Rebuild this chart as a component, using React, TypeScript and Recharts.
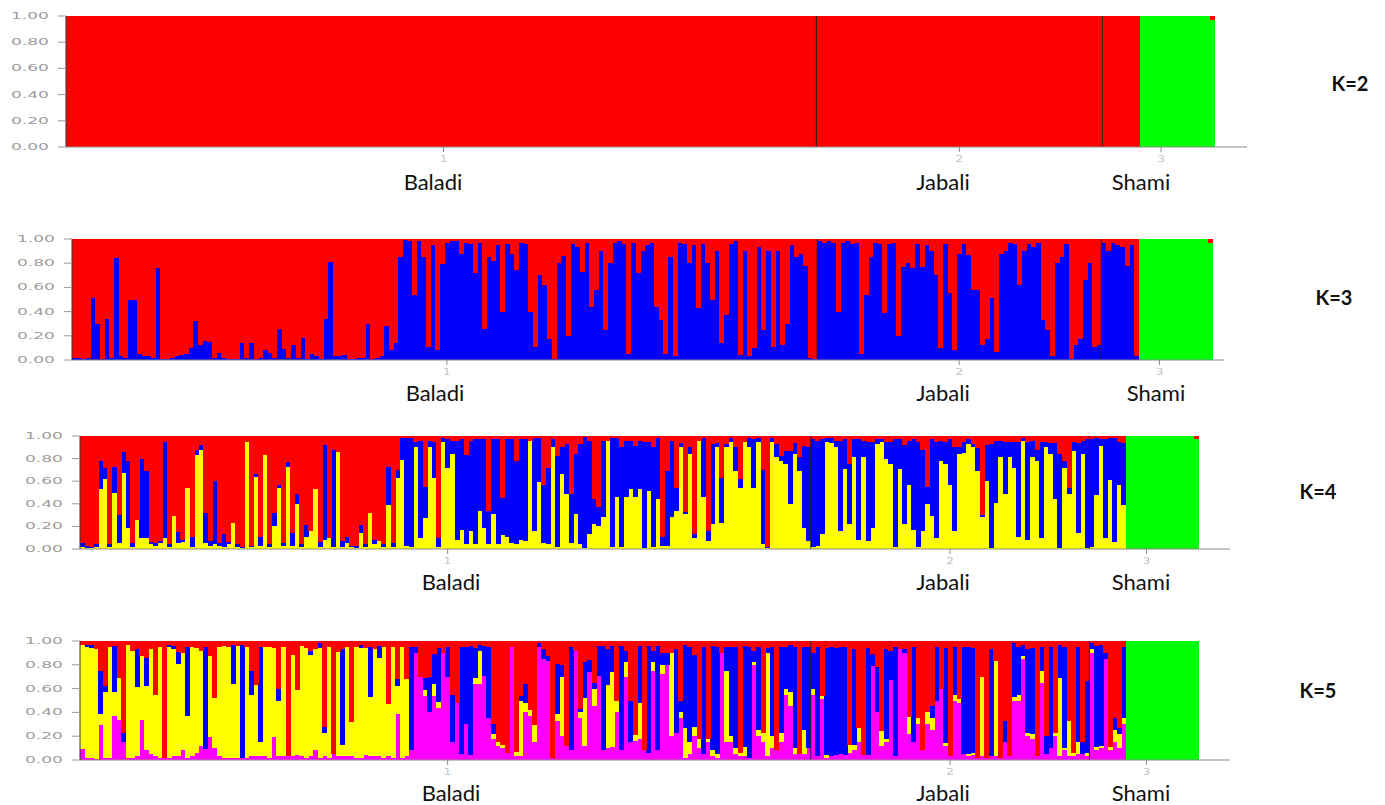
import React from "react";
import { BarChart, Bar, XAxis, YAxis, ReferenceLine } from "recharts";

const POPULATIONS = ["Baladi", "Jabali", "Shami"];
const POP_SIZES = [160, 61, 24];
const Y_TICKS = [0, 20, 40, 60, 80, 100];

// membership (%) of the green cluster for the last Shami individuals
const k2Green = [100, 100, 100, 100, 100, 100, 100, 100, 100, 100, 100, 100, 100, 100, 100, 97];
const k3Green = [100, 100, 100, 100, 100, 100, 100, 100, 100, 100, 100, 100, 100, 100, 100, 97];
const k4Green = [100, 100, 100, 100, 100, 100, 100, 100, 100, 100, 100, 100, 100, 100, 100, 97];
const k5Green = [100, 100, 100, 100, 100, 100, 100, 100, 100, 100, 100, 100, 100, 100, 100, 100];

// K=3, blue cluster (red is the rest)
const k3BlueBaladi = [
  2, 2, 1, 2, 51, 30, 1, 34, 2, 84, 3, 2, 50, 50, 5, 3, 3, 2, 76, 1,
  1, 2, 3, 4, 5, 10, 32, 12, 16, 15, 2, 6, 2, 1, 1, 1, 14, 2, 14, 1,
  2, 8, 6, 2, 26, 9, 2, 12, 2, 18, 1, 5, 3, 1, 34, 81, 3, 3, 4, 1,
  1, 2, 2, 30, 1, 2, 3, 28, 8, 14,
  85, 99, 98, 54, 98, 85, 11, 95, 8, 79, 97, 98, 98, 88, 97, 96, 72, 97, 26, 85,
  82, 95, 40, 96, 88, 74, 97, 96, 40, 11, 70, 62, 17, 1, 80, 86, 20, 96, 93, 73,
  97, 44, 58, 90, 25, 80, 97, 98, 96, 5, 97, 72, 90, 95, 97, 44, 33, 5, 85, 3,
  97, 96, 80, 95, 43, 96, 80, 50, 90, 14, 37, 96, 98, 4, 90, 3, 10, 93, 25, 90,
  11, 90, 12, 30, 95, 85, 88, 78, 2, 1,
];
const k3BlueJabali = [
  98, 97, 98, 97, 40, 97, 98, 96, 97, 5, 54, 85, 97, 96, 39, 96, 97, 20, 77, 80,
  76, 96, 77, 95, 90, 70, 10, 96, 55, 8, 88, 96, 87, 58, 58, 12, 17, 51, 7, 88,
  90, 97, 96, 62, 90, 96, 93, 97, 33, 25, 3, 80, 85, 96, 1, 12, 17, 66, 80, 11, 12,
];
const k3BlueShami = [97, 90, 97, 95, 93, 78, 95, 3];

// K=4, yellow and blue clusters
const k4YellowBaladi = [
  2, 1, 1, 2, 53, 62, 2, 50, 5, 67, 19, 2, 26, 10, 10, 4, 3, 5, 10, 2,
  29, 5, 6, 54, 2, 83, 88, 5, 3, 4, 3, 2, 4, 23, 2, 1, 95, 2, 64, 3,
  83, 2, 20, 54, 3, 73, 3, 40, 2, 11, 16, 53, 2, 8, 10, 2, 86, 2, 5, 2,
  1, 14, 2, 32, 4, 7, 2, 39, 2, 63, 79, 3, 2, 90, 10, 27, 90, 63, 2, 95,
  72, 84, 8, 17, 4, 16, 4, 34, 19, 4, 31, 4, 12, 11, 5, 4, 8, 7, 96, 16,
  59, 5, 4, 90, 2, 66, 49, 5, 31, 4, 1, 13, 22, 20, 28, 96, 2, 46, 2, 46,
  53, 46, 53, 1, 51, 2, 44, 3, 3, 28, 34, 90, 31, 84, 10, 96, 46, 7, 22, 90,
  23, 90, 95, 69, 54, 95, 90, 54, 95, 4, 1, 95, 81, 78, 75, 40, 84, 69, 19, 7,
];
const k4BlueBaladi = [
  3, 2, 1, 2, 25, 10, 2, 23, 25, 19, 59, 3, 0, 70, 59, 2, 2, 2, 85, 2,
  0, 10, 2, 0, 9, 5, 4, 27, 4, 56, 2, 11, 2, 0, 2, 1, 0, 1, 2, 8,
  0, 2, 12, 3, 2, 4, 11, 9, 2, 10, 0, 0, 4, 84, 0, 86, 0, 5, 6, 1,
  2, 7, 2, 0, 4, 0, 2, 34, 3, 7, 19, 95, 96, 5, 86, 28, 6, 32, 8, 3,
  25, 12, 88, 80, 79, 80, 93, 63, 78, 30, 66, 93, 33, 86, 92, 74, 89, 90, 0, 82,
  39, 52, 68, 7, 80, 24, 44, 44, 53, 89, 98, 83, 22, 17, 68, 0, 96, 52, 88, 50,
  43, 45, 43, 94, 44, 88, 54, 8, 66, 68, 20, 4, 2, 6, 3, 0, 52, 9, 71, 4,
  40, 3, 3, 21, 8, 0, 8, 43, 3, 66, 1, 3, 12, 4, 12, 47, 10, 12, 72, 83,
];
const k4YellowJabali = [
  2, 3, 13, 95, 94, 90, 16, 71, 22, 81, 8, 81, 7, 19, 93, 95, 80, 75, 2, 71,
  22, 57, 17, 2, 16, 40, 29, 10, 78, 75, 57, 16, 84, 85, 93, 90, 69, 28, 60, 1,
  41, 81, 49, 81, 72, 11, 96, 8, 81, 78, 10, 90, 84, 44, 1, 72, 49, 87, 14, 84, 1,
];
const k4BlueJabali = [
  95, 93, 84, 3, 4, 6, 80, 26, 53, 16, 89, 15, 88, 76, 4, 2, 15, 20, 95, 26,
  70, 39, 80, 93, 72, 15, 68, 85, 18, 20, 40, 74, 6, 10, 4, 3, 20, 2, 32, 92,
  55, 15, 46, 14, 23, 84, 2, 87, 15, 10, 85, 5, 10, 50, 83, 6, 5, 8, 80, 12, 96,
];
const k4YellowShami = [2, 48, 91, 10, 61, 6, 57, 39];
const k4BlueShami = [95, 50, 6, 87, 37, 92, 38, 55];

// K=5, magenta, yellow and blue clusters
const k5MagentaBaladi = [
  9, 2, 2, 1, 29, 2, 2, 37, 34, 15, 2, 2, 3, 34, 8, 5, 3, 2, 2, 2,
  3, 3, 8, 2, 3, 6, 12, 9, 19, 10, 3, 2, 2, 2, 2, 2, 2, 3, 3, 3,
  3, 2, 19, 3, 3, 3, 3, 4, 3, 2, 3, 8, 2, 3, 2, 5, 3, 3, 3, 3,
  2, 2, 4, 3, 3, 3, 2, 3, 2, 39, 2, 3,
  8, 90, 70, 54, 40, 54, 44, 90, 70, 15, 48,
  5, 30, 4, 64, 64, 71, 35, 18, 12, 10, 6, 95, 3, 3, 40, 37, 15, 95, 85, 83,
  2, 33, 20, 12, 8, 92, 35, 12, 74, 45, 71, 8, 10, 11, 40, 8, 70, 15, 16, 18,
  8, 6, 75, 8, 72, 80, 20, 23, 35, 2, 5, 20, 10, 5, 15, 3, 2, 90, 15, 15,
  5, 3, 3, 2, 80, 20, 15, 3, 10, 8, 15, 55, 45, 5, 5, 5, 10,
];
const k5YellowBaladi = [
  88, 93, 92, 92, 10, 55, 93, 20, 35, 0, 95, 90, 58, 53, 54, 88, 52, 93, 0, 93,
  90, 78, 82, 35, 92, 88, 80, 0, 68, 42, 92, 94, 93, 62, 94, 0, 93, 52, 60, 12,
  92, 93, 75, 47, 92, 0, 85, 55, 93, 92, 85, 85, 92, 20, 93, 0, 88, 10, 92, 29,
  93, 92, 90, 50, 90, 83, 93, 44, 93, 23, 93, 65,
  0, 0, 0, 5, 0, 10, 5, 0, 0, 0, 0,
  0, 0, 0, 5, 28, 0, 0, 4, 3, 3, 0, 0, 4, 47, 8, 5, 14, 0, 0, 0,
  0, 6, 50, 0, 0, 0, 5, 40, 0, 15, 0, 0, 53, 63, 10, 0, 12, 0, 5, 30,
  0, 0, 7, 0, 8, 0, 70, 0, 5, 25, 10, 8, 8, 0, 3, 5, 3, 0, 60, 5,
  5, 3, 8, 0, 2, 5, 8, 87, 10, 0, 8, 5, 12, 5, 0, 20, 0,
];
const k5BlueBaladi = [
  0, 2, 3, 0, 36, 5, 0, 39, 0, 8, 0, 0, 32, 0, 24, 0, 0, 0, 0, 2,
  3, 10, 0, 58, 0, 0, 0, 86, 0, 0, 0, 0, 0, 33, 0, 95, 0, 20, 0, 80,
  0, 0, 0, 10, 0, 0, 0, 0, 0, 0, 4, 0, 4, 5, 0, 0, 0, 80, 0, 0,
  0, 3, 0, 42, 0, 10, 0, 0, 0, 6, 0, 0,
  87, 5, 0, 10, 30, 25, 45, 0, 25, 40, 0,
  90, 65, 92, 25, 5, 25, 60, 8, 0, 0, 0, 0, 0, 4, 16, 0, 0, 3, 8, 4,
  0, 42, 10, 0, 87, 0, 3, 30, 10, 5, 25, 88, 30, 22, 0, 88, 10, 35, 0, 48,
  0, 90, 10, 88, 10, 10, 0, 70, 10, 70, 80, 60, 0, 90, 0, 88, 90, 0, 20, 75,
  85, 0, 85, 93, 10, 70, 0, 4, 75, 0, 72, 35, 40, 85, 0, 70, 85,
];
const k5MagentaJabali = [
  55, 3, 51, 2, 3, 4, 5, 4, 6, 8, 15, 4, 4, 79, 40, 12, 15, 67, 3, 93,
  90, 22, 15, 30, 8, 30, 25, 50, 60, 12, 3, 50, 48, 5, 3, 4, 2, 3, 2, 3,
  3, 2, 15, 3, 50, 50, 85, 20, 18, 3, 65, 5, 10, 20, 3, 8, 3, 3, 5, 5, 3,
];
const k5YellowJabali = [
  5, 0, 3, 2, 0, 0, 0, 0, 7, 5, 12, 0, 0, 0, 0, 12, 3, 0, 0, 0,
  0, 14, 0, 5, 0, 10, 10, 0, 0, 2, 0, 5, 3, 0, 2, 2, 0, 67, 0, 0,
  80, 0, 0, 0, 3, 5, 2, 3, 4, 0, 10, 0, 0, 3, 66, 2, 30, 3, 10, 0, 3,
];
const k5BlueJabali = [
  30, 92, 0, 90, 92, 90, 90, 91, 0, 80, 0, 0, 90, 10, 38, 0, 75, 25, 92, 0,
  3, 0, 80, 0, 0, 0, 10, 45, 0, 80, 0, 40, 0, 90, 90, 88, 0, 0, 0, 90,
  0, 0, 18, 0, 45, 40, 10, 70, 72, 0, 20, 15, 85, 0, 28, 85, 0, 0, 80, 10, 60,
];
const k5MagentaShami = [90, 8, 10, 85, 8, 15, 10, 30];
const k5YellowShami = [3, 3, 2, 0, 3, 10, 12, 5];
const k5BlueShami = [5, 85, 85, 5, 0, 10, 5, 60];

const COLORS: Record<string, string> = {
  green: "#00ff00",
  magenta: "#ff00ff",
  yellow: "#ffff00",
  blue: "#0000ff",
  red: "#ff0000",
};

const POP_STARTS = POP_SIZES.map((_, i) => POP_SIZES.slice(0, i).reduce((a, b) => a + b, 0));
const POP_TICKS = POP_STARTS.map((s, i) => s + Math.floor(POP_SIZES[i] / 2));

type Mix = { magenta?: number[]; yellow?: number[]; blue?: number[] };

function buildRows(mix: Mix, green: number[]) {
  const total = POP_SIZES.reduce((a, b) => a + b, 0);
  const admixed = total - green.length;
  const rows = [];
  for (let i = 0; i < total; i++) {
    if (i < admixed) {
      const magenta = mix.magenta ? mix.magenta[i] : 0;
      const yellow = mix.yellow ? mix.yellow[i] : 0;
      const blue = mix.blue ? mix.blue[i] : 0;
      rows.push({ id: i, green: 0, magenta, yellow, blue, red: Math.max(0, 100 - magenta - yellow - blue) });
    } else {
      const g = green[i - admixed];
      rows.push({ id: i, green: g, magenta: 0, yellow: 0, blue: 0, red: 100 - g });
    }
  }
  return rows;
}

const PANELS = [
  {
    k: 2,
    rows: buildRows({}, k2Green),
    series: ["green", "red"],
    left: 66, top: 16, w: 1149, h: 131, axisEnd: 1247,
    labels: [433, 943, 1141], labelY: 190, kX: 1350, kY: 91,
  },
  {
    k: 3,
    rows: buildRows({ blue: [...k3BlueBaladi, ...k3BlueJabali, ...k3BlueShami] }, k3Green),
    series: ["green", "blue", "red"],
    left: 72, top: 239, w: 1141, h: 121, axisEnd: 1224,
    labels: [435, 943, 1156], labelY: 401, kX: 1334, kY: 305,
  },
  {
    k: 4,
    rows: buildRows(
      {
        yellow: [...k4YellowBaladi, ...k4YellowJabali, ...k4YellowShami],
        blue: [...k4BlueBaladi, ...k4BlueJabali, ...k4BlueShami],
      },
      k4Green
    ),
    series: ["green", "yellow", "blue", "red"],
    left: 80, top: 436, w: 1119, h: 113, axisEnd: 1230,
    labels: [451, 943, 1141], labelY: 590, kX: 1318, kY: 499,
  },
  {
    k: 5,
    rows: buildRows(
      {
        magenta: [...k5MagentaBaladi, ...k5MagentaJabali, ...k5MagentaShami],
        yellow: [...k5YellowBaladi, ...k5YellowJabali, ...k5YellowShami],
        blue: [...k5BlueBaladi, ...k5BlueJabali, ...k5BlueShami],
      },
      k5Green
    ),
    series: ["green", "magenta", "yellow", "blue", "red"],
    left: 80, top: 641, w: 1119, h: 119, axisEnd: 1230,
    labels: [451, 943, 1141], labelY: 801, kX: 1318, kY: 698,
  },
];

const Y_W = 60;
const M_TOP = 6;
const X_H = 24;
const LABEL_FONT = "Lato, 'Open Sans', sans-serif";

function YTick(props: any) {
  const { x, y, payload } = props;
  return (
    <g transform={`translate(${x},${y})`}>
      <text transform="scale(1.9,1)" textAnchor="end" dy={3} fontSize={9} fontFamily="'DejaVu Sans', sans-serif" fill="#9c9c9c">
        {(payload.value / 100).toFixed(2)}
      </text>
    </g>
  );
}

function XTick(props: any) {
  const { x, y, payload } = props;
  return (
    <g transform={`translate(${x},${y})`}>
      <text transform="scale(1.5,1)" textAnchor="middle" dy={8} fontSize={8} fontFamily="'DejaVu Sans', sans-serif" fill="#c4c4c4">
        {POP_TICKS.indexOf(payload.value) + 1}
      </text>
    </g>
  );
}

function StructurePanel({ p }: { p: any }) {
  const pad = p.axisEnd - (p.left + p.w);
  return (
    <div style={{ position: "absolute", left: p.left - Y_W, top: p.top - M_TOP }}>
      <BarChart
        width={Y_W + p.axisEnd - p.left + 4}
        height={M_TOP + p.h + X_H}
        data={p.rows}
        margin={{ top: M_TOP, right: 4, left: 0, bottom: 0 }}
        barCategoryGap={0}
        barGap={0}
      >
        <XAxis
          dataKey="id"
          ticks={POP_TICKS}
          interval={0}
          padding={{ left: 0, right: pad }}
          height={X_H}
          stroke="#8a8a8a"
          tickSize={5}
          tick={(t: any) => <XTick {...t} />}
        />
        <YAxis
          domain={[0, 100]}
          ticks={Y_TICKS}
          interval={0}
          width={Y_W}
          tickSize={8}
          tickMargin={9}
          stroke="#333"
          tickLine={{ stroke: "#999" }}
          tick={(t: any) => <YTick {...t} />}
          allowDataOverflow
        />
        {p.series.map((s: string) => (
          <Bar key={s} dataKey={s} stackId="q" fill={COLORS[s]} isAnimationActive={false} />
        ))}
        {POP_STARTS.slice(1).map((x) => (
          <ReferenceLine key={x} x={x} position="start" stroke="#222" strokeWidth={1} />
        ))}
      </BarChart>
    </div>
  );
}

export default function App() {
  return (
    <div style={{ position: "absolute", left: 0, top: 0, width: 1385, height: 805, background: "#fff" }}>
      <style>{`.recharts-bar-rectangle path { shape-rendering: crispEdges; }`}</style>
      {PANELS.map((p) => (
        <StructurePanel key={p.k} p={p} />
      ))}
      <svg width={1385} height={805} style={{ position: "absolute", left: 0, top: 0, pointerEvents: "none" }}>
        {PANELS.map((p) => (
          <g key={p.k}>
            {POPULATIONS.map((name, i) => (
              <text key={name} x={p.labels[i]} y={p.labelY} textAnchor="middle" fontSize={22} fontFamily={LABEL_FONT} fill="#111">
                {name}
              </text>
            ))}
            <text x={p.kX} y={p.kY} textAnchor="middle" fontSize={20} fontWeight="bold" fontFamily={LABEL_FONT} fill="#111">
              K={p.k}
            </text>
          </g>
        ))}
      </svg>
    </div>
  );
}
